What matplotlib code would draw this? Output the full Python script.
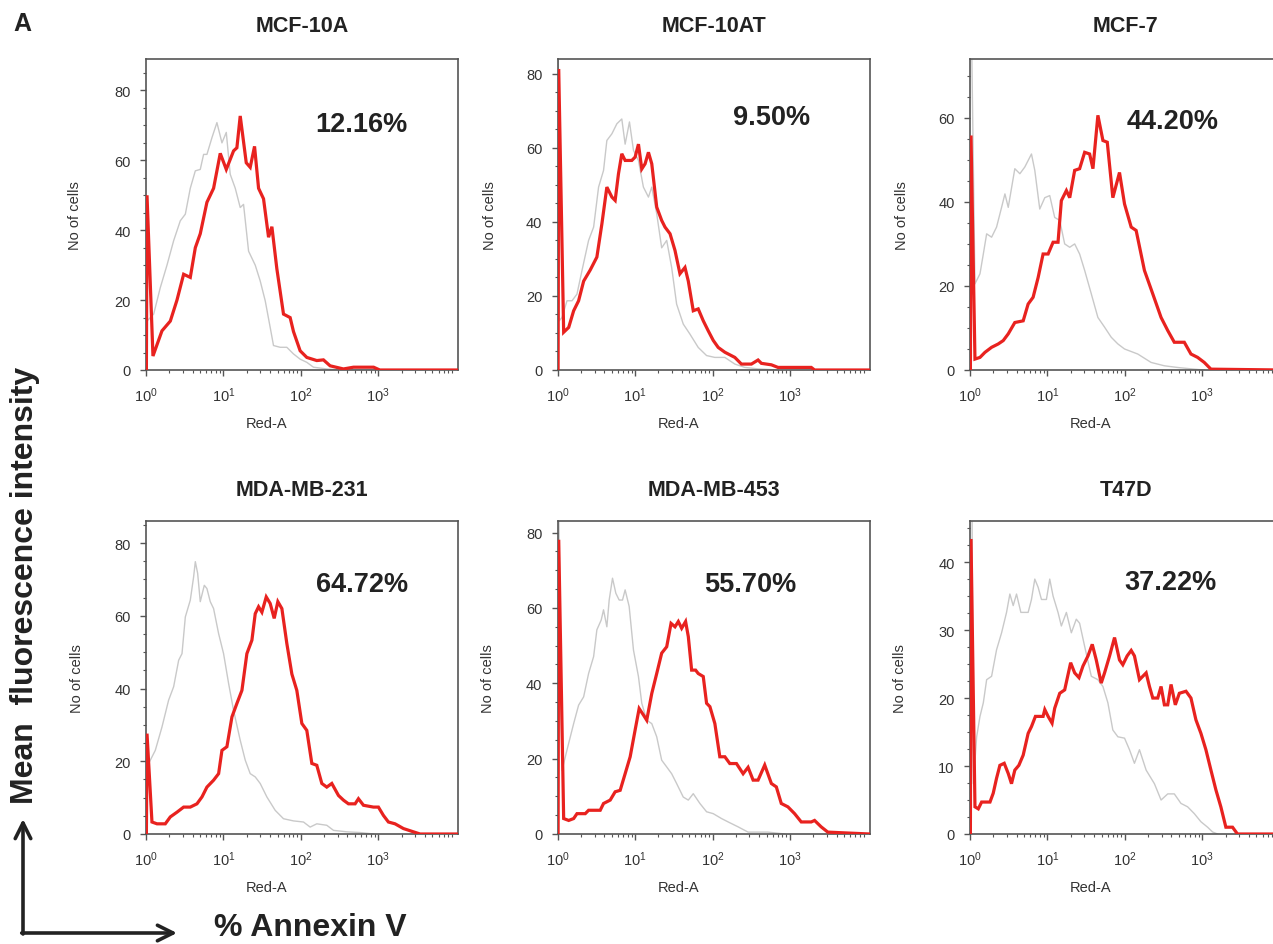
import matplotlib.pyplot as plt
from matplotlib.ticker import AutoMinorLocator, FixedLocator, LogLocator, NullFormatter, MultipleLocator
import numpy as np

plt.rcParams['font.family'] = ['Liberation Sans', 'DejaVu Sans']
plt.rcParams['mathtext.default'] = 'regular'

cell_lines = ['MCF-10A', 'MCF-10AT', 'MCF-7', 'MDA-MB-231', 'MDA-MB-453', 'T47D']
annexin_pct = ['12.16%', '9.50%', '44.20%', '64.72%', '55.70%', '37.22%']
y_top = [89, 84, 74, 86, 83, 46]
y_major = [20, 20, 20, 20, 20, 10]
x_tick_vals = [1, 10, 100, 1000]
x_tick_text = ['$10^0$', '$10^1$', '$10^2$', '$10^3$']

# x values are log10(Red-A), y values are number of cells
# annexin stained (red)
mcf10a_red_lx = [0.005, 0.013, 0.09, 0.206, 0.314, 0.4, 0.486, 0.572, 0.637, 0.701, 0.787, 0.873, 0.959, 1.037,
                 1.131, 1.174, 1.217, 1.295, 1.346, 1.402, 1.454, 1.518, 1.583, 1.626, 1.69, 1.776, 1.862, 1.905,
                 1.991, 2.077, 2.206, 2.292, 2.378, 2.55, 2.68, 2.94, 3.02, 4.03]
mcf10a_red = [0, 50, 4, 11.2, 14, 20, 27.4, 26.5, 35, 39, 48, 52, 62, 57.4, 62.7, 63.6, 72.7, 59.3, 58, 64,
              52, 49, 38, 41, 29, 16, 15, 11, 5.5, 3.6, 2.7, 2.9, 1.2, 0.3, 0.8, 0.8, 0, 0]
mcf10at_red_lx = [0.005, 0.013, 0.077, 0.142, 0.206, 0.27, 0.335, 0.42, 0.506, 0.571, 0.635, 0.7, 0.742, 0.785,
                  0.828, 0.871, 0.957, 1.0, 1.043, 1.086, 1.129, 1.172, 1.215, 1.279, 1.343, 1.386, 1.451, 1.515,
                  1.579, 1.644, 1.687, 1.751, 1.815, 1.88, 1.944, 2.009, 2.073, 2.159, 2.288, 2.373, 2.502, 2.588,
                  2.631, 2.76, 2.845, 3.275, 3.318, 4.03]
mcf10at_red = [0, 81.3, 10.2, 11.5, 16, 18.7, 24, 27, 30.5, 39.5, 49.4, 46.7, 45.8, 53, 58.4, 56.6, 56.6, 57.5,
               61, 54.3, 55.7, 58.8, 55.7, 44, 40.4, 38.6, 36.8, 32.3, 26, 27.7, 24, 16, 16.5, 13.3, 10.6, 8, 6.1,
               4.8, 3.4, 1.6, 1.6, 2.7, 1.8, 1.4, 0.7, 0.7, 0, 0]
mcf7_red_lx = [0.005, 0.013, 0.064, 0.129, 0.193, 0.279, 0.365, 0.429, 0.494, 0.579, 0.687, 0.751, 0.815, 0.88,
               0.944, 1.009, 1.073, 1.137, 1.18, 1.245, 1.288, 1.352, 1.416, 1.481, 1.545, 1.588, 1.652, 1.717,
               1.773, 1.845, 1.931, 1.996, 2.082, 2.146, 2.253, 2.361, 2.468, 2.554, 2.639, 2.768, 2.854, 2.94,
               3.026, 3.112, 4.03]
mcf7_red = [0, 55.8, 2.6, 3, 4.2, 5.4, 6.2, 7, 8.6, 11.3, 11.7, 15.7, 17.3, 22, 27.6, 27.6, 30.4, 30.4, 40.3,
            42.7, 41, 47.5, 47.9, 51.8, 51.4, 47.9, 60.6, 54.6, 54.2, 41, 47, 39.5, 34, 33.2, 23.7, 18.1, 12.5,
            9.4, 6.6, 6.6, 3.8, 3, 1.8, 0.2, 0]
mb231_red_lx = [0.005, 0.013, 0.077, 0.142, 0.249, 0.314, 0.4, 0.486, 0.572, 0.658, 0.723, 0.787, 0.873, 0.938,
                0.981, 1.045, 1.11, 1.174, 1.239, 1.303, 1.368, 1.411, 1.454, 1.497, 1.553, 1.604, 1.656, 1.703,
                1.755, 1.819, 1.884, 1.948, 2.013, 2.077, 2.142, 2.206, 2.271, 2.335, 2.4, 2.486, 2.551, 2.615,
                2.701, 2.744, 2.809, 2.938, 3.002, 3.067, 3.131, 3.217, 3.325, 3.454, 3.54, 4.03]
mb231_red = [0, 27.6, 3.3, 2.8, 2.8, 4.7, 6, 7.4, 7.4, 8.3, 10.2, 12.9, 14.8, 16.6, 23, 24, 32.2, 35.9, 39.5,
             49.6, 53.3, 60.6, 62.5, 61, 65.2, 63.4, 59.3, 63.9, 62, 52.4, 44, 39.5, 30.4, 28.5, 19.4, 18.9, 13.9,
             12.9, 13.9, 10.6, 9.3, 8.3, 8.3, 9.7, 7.9, 7.4, 7.4, 5.1, 3.3, 2.8, 1.5, 0.6, 0, 0]
mb453_red_lx = [0.005, 0.013, 0.077, 0.142, 0.206, 0.249, 0.356, 0.399, 0.549, 0.592, 0.678, 0.742, 0.807, 0.871,
                0.936, 1.0, 1.052, 1.107, 1.15, 1.215, 1.279, 1.343, 1.408, 1.464, 1.515, 1.558, 1.601, 1.652,
                1.687, 1.73, 1.781, 1.815, 1.88, 1.923, 1.966, 2.03, 2.094, 2.159, 2.223, 2.309, 2.395, 2.459,
                2.524, 2.588, 2.674, 2.76, 2.824, 2.888, 2.974, 3.06, 3.146, 3.275, 3.318, 3.403, 3.489, 4.03]
mb453_red = [0, 78.1, 4.1, 3.6, 4.1, 5.4, 5.4, 6.3, 6.3, 8.1, 9, 11.2, 11.6, 16, 20.5, 27.6, 33.3, 31.6, 30.2,
             37.3, 42.6, 48, 49.7, 55.9, 55, 56.4, 54.6, 56.4, 52.4, 43.5, 43.5, 42.6, 41.8, 34.7, 33.8, 29.3,
             20.5, 20.5, 18.7, 18.7, 16, 17.7, 14.3, 14.3, 18.3, 13.4, 12.5, 8.1, 7.2, 5.4, 3.2, 3.2, 3.6, 1.9,
             0.5, 0]
t47d_red_lx = [0.005, 0.013, 0.064, 0.107, 0.15, 0.258, 0.3, 0.343, 0.386, 0.442, 0.494, 0.536, 0.579, 0.631,
               0.687, 0.751, 0.794, 0.845, 0.944, 0.966, 1.009, 1.06, 1.094, 1.159, 1.223, 1.3, 1.352, 1.408,
               1.459, 1.524, 1.579, 1.631, 1.695, 1.738, 1.803, 1.867, 1.931, 1.974, 2.03, 2.082, 2.124, 2.189,
               2.232, 2.275, 2.318, 2.361, 2.425, 2.468, 2.511, 2.554, 2.597, 2.652, 2.704, 2.79, 2.854, 2.918,
               2.983, 3.047, 3.112, 3.176, 3.24, 3.305, 3.391, 3.455, 4.03]
t47d_red = [0, 43.4, 4, 3.7, 4.7, 4.7, 6, 8.2, 10.1, 10.4, 8.9, 7.4, 9.4, 10.1, 11.6, 14.8, 15.8, 17.3, 17.3,
            18.3, 17.3, 16.3, 18.5, 20.7, 21.2, 25.2, 23.7, 23, 24.7, 26.2, 27.9, 25.6, 22.2, 23.7, 26.2, 28.9,
            25.6, 24.9, 26.2, 27, 26.2, 22.7, 23.2, 23.7, 21.7, 20, 20, 21.7, 19, 19, 22, 19, 20.7, 21, 20, 16.8,
            14.8, 12.4, 9.4, 6.5, 4, 1, 1, 0, 0]

# unstained control (grey)
mcf10a_grey_lx = [0.013, 0.099, 0.185, 0.271, 0.357, 0.443, 0.508, 0.572, 0.637, 0.701, 0.744, 0.787, 0.852,
                  0.916, 0.981, 1.037, 1.088, 1.153, 1.217, 1.26, 1.325, 1.411, 1.475, 1.54, 1.604, 1.647, 1.733,
                  1.819, 1.905, 1.991, 2.077, 2.163, 2.335, 2.508, 4.03]
mcf10a_grey = [14, 16, 23.6, 30, 37, 42.7, 44.6, 52, 57, 57.4, 61.7, 61.7, 66.5, 70.8, 65, 68, 56, 52, 46.5,
               47.4, 34, 30, 25.5, 19.8, 12.2, 7, 6.5, 6.5, 4.6, 3.1, 2.2, 0.8, 0.3, 0, 0]
mcf10at_grey_lx = [0.005, 0.02, 0.056, 0.12, 0.185, 0.249, 0.313, 0.399, 0.464, 0.528, 0.592, 0.635, 0.7, 0.764,
                   0.828, 0.871, 0.927, 0.979, 1.043, 1.107, 1.172, 1.215, 1.279, 1.343, 1.408, 1.472, 1.536,
                   1.622, 1.708, 1.815, 1.923, 2.03, 2.159, 2.288, 2.416, 2.588, 2.845]
mcf10at_grey = [100, 13.3, 14.2, 18.7, 18.7, 20.5, 26.8, 35, 38.6, 49.4, 53.9, 62, 63.8, 66.5, 67.8, 61, 67,
                59.3, 56.6, 49.4, 46.7, 49.4, 42.2, 33, 35, 27.7, 17.8, 12.4, 9.7, 6.1, 3.9, 3.4, 3.4, 1.6, 0.7,
                0.3, 0]
mcf7_grey_lx = [0.005, 0.064, 0.129, 0.172, 0.215, 0.279, 0.343, 0.408, 0.451, 0.494, 0.579, 0.644, 0.708, 0.794,
                0.837, 0.901, 0.966, 1.03, 1.094, 1.159, 1.223, 1.288, 1.352, 1.416, 1.481, 1.567, 1.652, 1.738,
                1.824, 1.91, 1.996, 2.167, 2.339, 2.511, 2.682, 2.897, 3.026]
mcf7_grey = [100, 20.5, 22.9, 27.6, 32.4, 31.6, 34, 38.7, 41.9, 38.7, 47.9, 46.7, 48.3, 51.4, 47.5, 38.3, 41,
             41.5, 36.3, 35.6, 30, 29.2, 30, 27.6, 23.7, 18.1, 12.5, 10.2, 7.8, 6.2, 5, 3.8, 1.8, 1, 0.6, 0.2, 0]
mb231_grey_lx = [0.034, 0.12, 0.206, 0.292, 0.357, 0.422, 0.465, 0.508, 0.572, 0.615, 0.637, 0.667, 0.701, 0.753,
                 0.787, 0.83, 0.873, 0.938, 1.002, 1.067, 1.131, 1.217, 1.282, 1.346, 1.411, 1.475, 1.561, 1.669,
                 1.776, 1.905, 2.034, 2.12, 2.206, 2.335, 2.422, 2.594, 2.766, 2.938]
mb231_grey = [19.4, 23, 29.4, 36.8, 40.5, 47.8, 49.6, 59.7, 64.3, 70.7, 74.9, 71.7, 63.9, 68.4, 67.5, 63.9, 62,
              55.1, 49.6, 41.4, 34, 25.8, 20.3, 16.6, 15.7, 13.9, 10.2, 6.5, 4.2, 3.6, 3.3, 1.9, 2.8, 2.4, 1, 0.6,
              0.4, 0]
mb453_grey_lx = [0.005, 0.056, 0.12, 0.206, 0.27, 0.335, 0.399, 0.464, 0.506, 0.562, 0.592, 0.635, 0.665, 0.708,
                 0.751, 0.794, 0.837, 0.871, 0.923, 0.979, 1.043, 1.086, 1.15, 1.215, 1.279, 1.343, 1.408, 1.472,
                 1.536, 1.622, 1.687, 1.751, 1.837, 1.923, 2.009, 2.116, 2.202, 2.33, 2.459, 2.717, 2.931]
mb453_grey = [100, 16.9, 22.3, 29.3, 34.2, 36.4, 42.6, 47.1, 54.2, 56.8, 59.5, 55, 62.1, 67.9, 63.9, 62.1, 62.1,
              64.8, 60.4, 48.8, 41.8, 34.7, 30.2, 29.3, 25.8, 19.6, 17.8, 16, 13.4, 9.8, 9, 10.7, 8.1, 5.9, 5.4,
              4.1, 3.2, 1.9, 0.5, 0.5, 0]
t47d_grey_lx = [0.005, 0.043, 0.086, 0.129, 0.172, 0.215, 0.279, 0.343, 0.408, 0.472, 0.515, 0.558, 0.601, 0.657,
                0.751, 0.794, 0.837, 0.88, 0.923, 0.987, 1.03, 1.073, 1.137, 1.18, 1.245, 1.309, 1.373, 1.416,
                1.481, 1.567, 1.652, 1.717, 1.781, 1.845, 1.91, 1.996, 2.06, 2.124, 2.189, 2.275, 2.382, 2.468,
                2.554, 2.639, 2.725, 2.811, 2.897, 2.983, 3.069, 3.133, 3.197]
t47d_grey = [100, 7.4, 14.3, 17.3, 19.3, 22.7, 23.2, 27.1, 29.6, 32.6, 35.3, 33.6, 35.3, 32.6, 32.6, 34.5, 37.5,
             36.3, 34.5, 34.5, 37.5, 35, 32.6, 30.6, 32.6, 29.6, 31.6, 31, 27.6, 23.2, 22.7, 21.7, 19.3, 15.3,
             14.3, 14.1, 12.4, 10.4, 12.4, 9.4, 7.4, 5, 5.9, 5.9, 4.5, 4, 3, 1.8, 1, 0.3, 0]

red_lx = [mcf10a_red_lx, mcf10at_red_lx, mcf7_red_lx, mb231_red_lx, mb453_red_lx, t47d_red_lx]
red_y = [mcf10a_red, mcf10at_red, mcf7_red, mb231_red, mb453_red, t47d_red]
grey_lx = [mcf10a_grey_lx, mcf10at_grey_lx, mcf7_grey_lx, mb231_grey_lx, mb453_grey_lx, t47d_grey_lx]
grey_y = [mcf10a_grey, mcf10at_grey, mcf7_grey, mb231_grey, mb453_grey, t47d_grey]

W, H = 1273, 945
fig = plt.figure(figsize=(W / 100, H / 100), dpi=100)

col_left = [146, 557.7, 970]
row_bottom = [371, 835]
row_height = [311, 312.7]
ax_w = 312
pct_pos = [(0.689, 0.791), (0.684, 0.813), (0.649, 0.80), (0.692, 0.80), (0.616, 0.80), (0.642, 0.806)]
ylab_x = [-0.206, -0.195, -0.195, -0.199, -0.202, -0.202]
title_y = [26, 491]

for i in range(6):
    r, c = divmod(i, 3)
    left = col_left[c]
    ax = fig.add_axes([left / W, 1 - row_bottom[r] / H, ax_w / W, row_height[r] / H])
    ax.plot(10 ** np.array(grey_lx[i]), grey_y[i], color='#c9c9c9', lw=1.0, zorder=2)
    ax.plot(10 ** np.array(red_lx[i]), red_y[i], color='#e8221f', lw=2.3, zorder=3,
            solid_joinstyle='miter')
    ax.set_xscale('log')
    ax.set_xlim(1, 10 ** 4.03)
    ax.set_ylim(0, y_top[i])

    ax.xaxis.set_major_locator(FixedLocator(x_tick_vals))
    ax.set_xticklabels(x_tick_text)
    ax.xaxis.set_minor_locator(LogLocator(base=10, subs=np.arange(2, 10)))
    ax.xaxis.set_minor_formatter(NullFormatter())
    ax.yaxis.set_major_locator(MultipleLocator(y_major[i]))
    ax.yaxis.set_minor_locator(AutoMinorLocator(4))

    ax.tick_params(which='major', direction='out', length=4, width=1, color='#555',
                   labelsize=10.5, labelcolor='#333')
    ax.tick_params(axis='x', which='major', pad=7)
    ax.tick_params(axis='y', which='major', pad=7)
    ax.tick_params(which='minor', direction='out', length=2.5, width=0.8, color='#555')
    for s in ax.spines.values():
        s.set_color('#555')
        s.set_linewidth(1.2)

    ax.set_ylabel('No of cells', fontsize=10.5, color='#333')
    ax.yaxis.set_label_coords(ylab_x[i], 0.5)
    ax.set_xlabel('Red-A', fontsize=10.5, color='#333')
    ax.xaxis.set_label_coords(0.387, -0.148)

    ax.text(pct_pos[i][0], pct_pos[i][1], annexin_pct[i], transform=ax.transAxes,
            ha='center', va='center', fontsize=19.5, fontweight='bold', color='#222')
    fig.text((left + ax_w / 2) / W, 1 - title_y[r] / H, cell_lines[i], ha='center', va='center',
             fontsize=15.5, fontweight='bold', color='#222')

fig.text(22 / W, 1 - 24 / H, 'A', ha='center', va='center', fontsize=18, fontweight='bold', color='#222')
fig.text(25 / W, 1 - 585 / H, 'Mean  fluorescence intensity', rotation=90, ha='center', va='center',
         fontsize=23, fontweight='bold', color='#222')
fig.text(310 / W, 1 - 928 / H, '% Annexin V', ha='center', va='center',
         fontsize=23, fontweight='bold', color='#222')

arrow = dict(arrowstyle='->', lw=2.6, color='#222', mutation_scale=28, shrinkA=0, shrinkB=0)
fig.add_artist(plt.Annotation('', xy=(23 / W, 1 - 820 / H), xytext=(23 / W, 1 - 935 / H),
                              xycoords='figure fraction', arrowprops=arrow))
fig.add_artist(plt.Annotation('', xy=(177 / W, 1 - 934 / H), xytext=(21.7 / W, 1 - 934 / H),
                              xycoords='figure fraction', arrowprops=arrow))

fig.savefig('out.png', dpi=100)
